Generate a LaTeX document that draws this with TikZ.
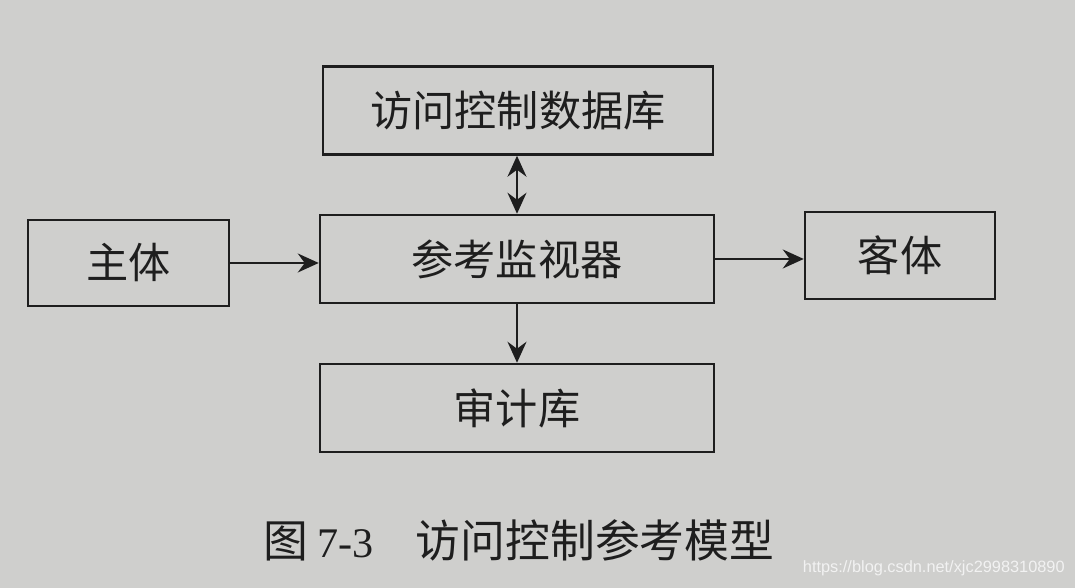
\documentclass[tikz,border=0pt]{standalone}
\usepackage{fontspec}
\newfontfamily\cjk{Noto Sans CJK SC}
\newfontfamily\wmfont{Liberation Sans}
\newfontfamily\numfont{Liberation Serif}
\usepackage{tikz}
\usetikzlibrary{arrows.meta,positioning,calc}
\definecolor{refInk}{HTML}{1E1E1E}
\definecolor{refPaper}{HTML}{CFCFCD}
\definecolor{refMark}{HTML}{F2F2F2}
\begin{document}
\begin{tikzpicture}[
  box/.style={draw=refInk, line width=1.4pt, minimum height=1.76cm,
    inner sep=0pt, font=\cjk\fontsize{24}{28}\selectfont, text=refInk},
  arrow/.style={-{Stealth[length=4.2mm,width=3.8mm,inset=1.4mm]},
    line width=1.2pt, draw=refInk},
  biarrow/.style={{Stealth[length=4.2mm,width=3.8mm,inset=1.4mm]}-{Stealth[length=4.2mm,width=3.8mm,inset=1.4mm]},
    line width=1.2pt, draw=refInk}
]
\fill[refPaper] (0,0) rectangle (21.5,11.76);
\useasboundingbox (0,0) rectangle (21.5,11.76);
\node[box,minimum width=7.8cm] (acdb) at (10.36,9.55) {访问控制数据库};
\node[box,minimum width=7.88cm] (monitor) at (10.34,6.58) {参考监视器};
\node[box,minimum width=4.02cm,minimum height=1.72cm] (subject) at (2.57,6.5) {主体};
\node[box,minimum width=3.8cm,minimum height=1.74cm] (object) at (18.0,6.65) {客体};
\node[box,minimum width=7.88cm] (audit) at (10.34,3.6) {审计库};
\node[anchor=west, inner sep=0pt, font=\cjk\fontsize{25.5}{30}\selectfont, text=refInk]
  (caption) at (5.26,0.96)
  {图\hspace{0.2em}{\numfont\fontsize{24}{28}\selectfont 7-3}\hspace{0.95em}访问控制参考模型};
\node[anchor=east, font=\wmfont\fontsize{9.3}{11}\selectfont, text=refMark,
  inner sep=0pt] (mark) at (21.3,0.4) {https://blog.csdn.net/xjc2998310890};
\draw[arrow] (subject.east) -- (subject.east -| monitor.west);
\draw[arrow] (monitor.east) -- (monitor.east -| object.west);
\draw[biarrow] (monitor.north) -- (monitor.north |- acdb.south);
\draw[arrow] (monitor.south) -- (audit.north);
\end{tikzpicture}
\end{document}
